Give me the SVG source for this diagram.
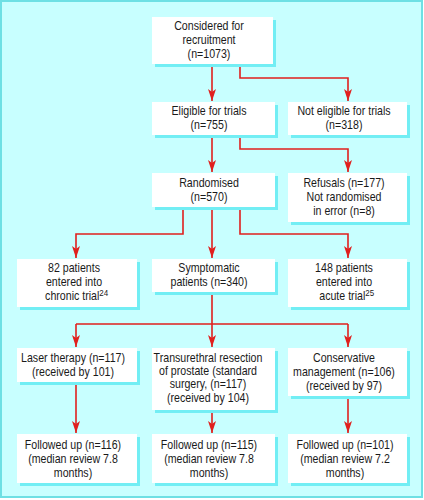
<svg xmlns="http://www.w3.org/2000/svg" width="424" height="500" viewBox="0 0 424 500">
<style>
.box{fill:#ffffff}
.sh{fill:#72eef4}
.t{font-family:"Liberation Sans",Arial,sans-serif;font-size:12px;fill:#1a1a1a;text-anchor:middle}
.sup{font-size:9px}
.c{fill:none;stroke:#e0201e;stroke-width:1.6}
</style>
<defs>
<marker id="ah" viewBox="0 0 8 12" refX="4" refY="12" markerWidth="8" markerHeight="12" markerUnits="userSpaceOnUse" orient="0">
<path d="M0,0 L4,3 L8,0 L4,12 z" fill="#e0201e"/>
</marker>
</defs>
<rect x="1" y="1" width="421" height="496" fill="#c8ffff" stroke="#6ee0e4" stroke-width="2"/>
<g id="connectors">
<path class="c" d="M212,64 V101" marker-end="url(#ah)"/>
<path class="c" d="M240,64 V78 H348 V101" marker-end="url(#ah)"/>
<path class="c" d="M212,135 V172" marker-end="url(#ah)"/>
<path class="c" d="M240,135 V149 H348 V172" marker-end="url(#ah)"/>
<path class="c" d="M183,207 V234 H76 V258" marker-end="url(#ah)"/>
<path class="c" d="M212,207 V258" marker-end="url(#ah)"/>
<path class="c" d="M240,207 V234 H348 V258" marker-end="url(#ah)"/>
<path class="c" d="M212,292 V324 M76,324 H348"/>
<path class="c" d="M76,324 V347" marker-end="url(#ah)"/>
<path class="c" d="M212,324 V347" marker-end="url(#ah)"/>
<path class="c" d="M348,324 V347" marker-end="url(#ah)"/>
<path class="c" d="M76,382 V433" marker-end="url(#ah)"/>
<path class="c" d="M212,410 V433" marker-end="url(#ah)"/>
<path class="c" d="M348,396 V433" marker-end="url(#ah)"/>
</g>
<g id="considered">
<rect class="sh" x="155" y="20" width="121" height="47"/><rect class="box" x="152" y="17" width="121" height="47"/>
<text class="t" transform="translate(209,0) scale(0.885,1)"><tspan x="0" y="30">Considered for</tspan><tspan x="0" y="44">recruitment</tspan><tspan x="0" y="58">(n=1073)</tspan></text>
</g>
<g id="eligible">
<rect class="sh" x="155" y="105" width="123" height="33"/><rect class="box" x="152" y="102" width="123" height="33"/>
<text class="t" transform="translate(209,0) scale(0.885,1)"><tspan x="0" y="115">Eligible for trials</tspan><tspan x="0" y="129">(n=755)</tspan></text>
</g>
<g id="not-eligible">
<rect class="sh" x="291" y="105" width="119" height="33"/><rect class="box" x="288" y="102" width="119" height="33"/>
<text class="t" transform="translate(344,0) scale(0.885,1)"><tspan x="0" y="115">Not eligible for trials</tspan><tspan x="0" y="129">(n=318)</tspan></text>
</g>
<g id="randomised">
<rect class="sh" x="155" y="176" width="123" height="34"/><rect class="box" x="152" y="173" width="123" height="34"/>
<text class="t" transform="translate(209,0) scale(0.885,1)"><tspan x="0" y="187">Randomised</tspan><tspan x="0" y="201">(n=570)</tspan></text>
</g>
<g id="refusals">
<rect class="sh" x="291" y="176" width="119" height="49"/><rect class="box" x="288" y="173" width="119" height="49"/>
<text class="t" transform="translate(344,0) scale(0.885,1)"><tspan x="0" y="187">Refusals (n=177)</tspan><tspan x="0" y="201">Not randomised</tspan><tspan x="0" y="215">in error (n=8)</tspan></text>
</g>
<g id="chronic">
<rect class="sh" x="20" y="262" width="120" height="48"/><rect class="box" x="17" y="259" width="120" height="48"/>
<text class="t" transform="translate(74,0) scale(0.885,1)"><tspan x="0" y="272">82 patients</tspan><tspan x="0" y="286">entered into</tspan><tspan x="3" y="300">chronic trial<tspan class="sup" dy="-4">24</tspan></tspan></text>
</g>
<g id="symptomatic">
<rect class="sh" x="155" y="262" width="123" height="33"/><rect class="box" x="152" y="259" width="123" height="33"/>
<text class="t" transform="translate(209,0) scale(0.885,1)"><tspan x="0" y="272">Symptomatic</tspan><tspan x="0" y="286">patients (n=340)</tspan></text>
</g>
<g id="acute">
<rect class="sh" x="291" y="262" width="119" height="48"/><rect class="box" x="288" y="259" width="119" height="48"/>
<text class="t" transform="translate(344,0) scale(0.885,1)"><tspan x="0" y="272">148 patients</tspan><tspan x="0" y="286">entered into</tspan><tspan x="3" y="300">acute trial<tspan class="sup" dy="-4">25</tspan></tspan></text>
</g>
<g id="laser">
<rect class="sh" x="20" y="351" width="120" height="34"/><rect class="box" x="17" y="348" width="120" height="34"/>
<text class="t" transform="translate(73,0) scale(0.885,1)"><tspan x="0" y="362">Laser therapy (n=117)</tspan><tspan x="0" y="376">(received by 101)</tspan></text>
</g>
<g id="turp">
<rect class="sh" x="155" y="351" width="123" height="62"/><rect class="box" x="152" y="348" width="123" height="62"/>
<text class="t" transform="translate(208,0) scale(0.885,1)"><tspan x="0" y="362">Transurethral resection</tspan><tspan x="0" y="375">of prostate (standard</tspan><tspan x="0" y="388">surgery, (n=117)</tspan><tspan x="0" y="402">(received by 104)</tspan></text>
</g>
<g id="conservative">
<rect class="sh" x="291" y="351" width="119" height="48"/><rect class="box" x="288" y="348" width="119" height="48"/>
<text class="t" transform="translate(344,0) scale(0.885,1)"><tspan x="0" y="362">Conservative</tspan><tspan x="0" y="376">management (n=106)</tspan><tspan x="0" y="390">(received by 97)</tspan></text>
</g>
<g id="followup-laser">
<rect class="sh" x="20" y="437" width="120" height="49"/><rect class="box" x="17" y="434" width="120" height="49"/>
<text class="t" transform="translate(73,0) scale(0.885,1)"><tspan x="0" y="449">Followed up (n=116)</tspan><tspan x="0" y="463">(median review 7.8</tspan><tspan x="0" y="477">months)</tspan></text>
</g>
<g id="followup-turp">
<rect class="sh" x="155" y="437" width="123" height="49"/><rect class="box" x="152" y="434" width="123" height="49"/>
<text class="t" transform="translate(209,0) scale(0.885,1)"><tspan x="0" y="449">Followed up (n=115)</tspan><tspan x="0" y="463">(median review 7.8</tspan><tspan x="0" y="477">months)</tspan></text>
</g>
<g id="followup-conservative">
<rect class="sh" x="291" y="437" width="119" height="49"/><rect class="box" x="288" y="434" width="119" height="49"/>
<text class="t" transform="translate(345,0) scale(0.885,1)"><tspan x="0" y="449">Followed up (n=101)</tspan><tspan x="0" y="463">(median review 7.2</tspan><tspan x="0" y="477">months)</tspan></text>
</g>
</svg>
